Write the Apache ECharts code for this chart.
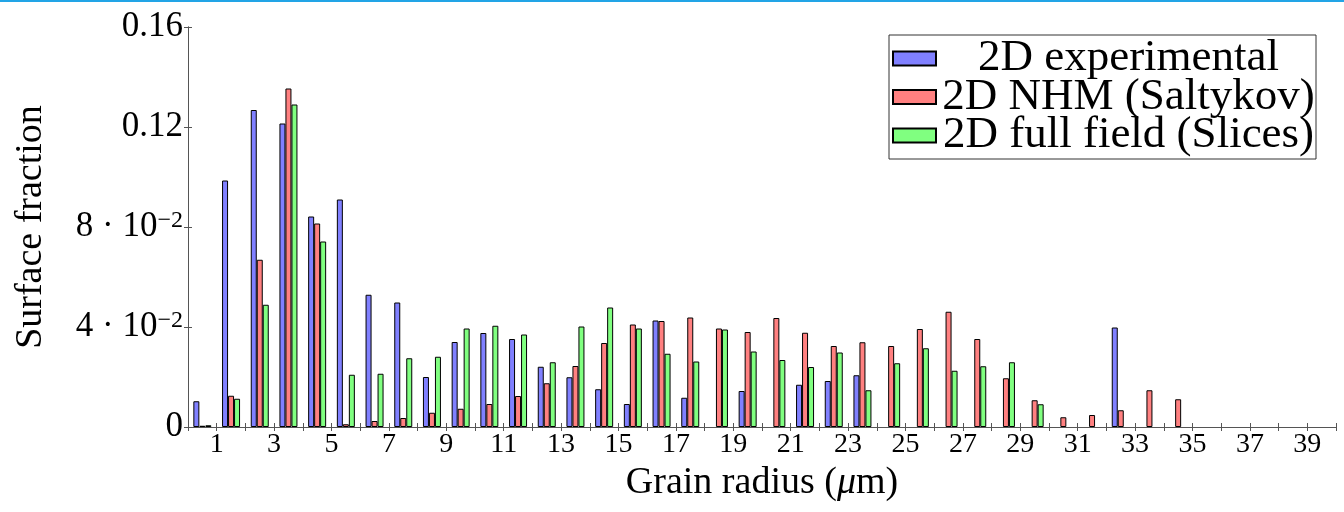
<!DOCTYPE html>
<html>
<head>
<meta charset="utf-8">
<script src="https://cdn.jsdelivr.net/npm/echarts@6/dist/echarts.min.js"></script>
<style>
  html, body { margin: 0; padding: 0; background: #fff; }
  #chart { width: 1344px; height: 512px; }
</style>
</head>
<body>
<div id="chart"></div>
<script>
// Bin centres (grain radius, µm): bins of width 1 from 0 to 40
const binCenters = [0.5, 1.5, 2.5, 3.5, 4.5, 5.5, 6.5, 7.5, 8.5, 9.5,
  10.5, 11.5, 12.5, 13.5, 14.5, 15.5, 16.5, 17.5, 18.5, 19.5,
  20.5, 21.5, 22.5, 23.5, 24.5, 25.5, 26.5, 27.5, 28.5, 29.5,
  30.5, 31.5, 32.5, 33.5, 34.5, 35.5, 36.5, 37.5, 38.5, 39.5];

// Surface fraction per bin
const experimental = [0.0103, 0.0986, 0.1268, 0.1214, 0.0842, 0.0910, 0.0529, 0.0498, 0.0200, 0.0340,
  0.0376, 0.0352, 0.0241, 0.0199, 0.0151, 0.0092, 0.0426, 0.0117, 0, 0.0144,
  0, 0.0169, 0.0184, 0.0207, 0, 0, 0, 0, 0, 0,
  0, 0, 0.0398, 0, 0, 0, 0, 0, 0, 0];

const nhmSaltykov = [0.0005, 0.0125, 0.0669, 0.1354, 0.0814, 0.0011, 0.0024, 0.0036, 0.0057, 0.0073,
  0.0092, 0.0124, 0.0175, 0.0244, 0.0336, 0.0410, 0.0424, 0.0438, 0.0394, 0.0380,
  0.0436, 0.0377, 0.0324, 0.0339, 0.0324, 0.0392, 0.0461, 0.0352, 0.0195, 0.0107,
  0.0039, 0.0048, 0.0067, 0.0147, 0.0111, 0, 0, 0, 0, 0];

const fullFieldSlices = [0.0007, 0.0113, 0.0489, 0.1290, 0.0742, 0.0209, 0.0213, 0.0275, 0.0281, 0.0394,
  0.0405, 0.0370, 0.0259, 0.0402, 0.0478, 0.0394, 0.0293, 0.0262, 0.0390, 0.0302,
  0.0268, 0.0240, 0.0298, 0.0147, 0.0255, 0.0315, 0.0225, 0.0243, 0.0259, 0.0091,
  0, 0, 0, 0, 0, 0, 0, 0, 0, 0];

const seriesNames = ['2D experimental', '2D NHM (Saltykov)', '2D full field (Slices)'];
const seriesColors = ['#8080ff', '#ff8080', '#80ff80'];

// y tick labels written as in the source typesetting
const yTickLabels = { '0': '0', '0.04': '4 · 10{s|−2}', '0.08': '8 · 10{s|−2}', '0.12': '0.12', '0.16': '0.16' };

const FONT = '"Liberation Serif", "DejaVu Serif", serif';
const AXIS_COLOR = '#555';

// empty bins get no bar at all (a zero-height bar would still stroke its outline)
function pairs(values) {
  return binCenters.map((x, i) => [x, values[i] === 0 ? '-' : values[i]]);
}

const chart = echarts.init(document.getElementById('chart'), null, { renderer: 'canvas' });

const barSeries = [experimental, nhmSaltykov, fullFieldSlices].map((vals, k) => ({
  name: seriesNames[k],
  type: 'bar',
  data: pairs(vals),
  barWidth: 6,
  barGap: '0%',
  itemStyle: { color: seriesColors[k], borderColor: '#000', borderWidth: 1 },
  emphasis: { disabled: true },
  animation: false
}));

chart.setOption({
  backgroundColor: '#fff',
  animation: false,
  textStyle: { fontFamily: FONT },
  graphic: [{
    type: 'rect',
    left: 0, top: 0,
    shape: { width: 1344, height: 2 },
    style: { fill: '#22a4e6' }
  }],
  grid: { left: 188, right: 8, top: 27, bottom: 85 },
  legend: {
    orient: 'vertical',
    left: 889, top: 35,
    padding: [1, 0, 1, 3],
    itemGap: -6.5,
    itemWidth: 43, itemHeight: 14,
    icon: 'rect',
    borderColor: '#333', borderWidth: 1,
    backgroundColor: '#fff',
    data: seriesNames,
    formatter: name => '{c|' + name + '}',
    textStyle: {
      fontFamily: FONT, fontSize: 45, lineHeight: 38, color: '#000',
      rich: { c: { fontFamily: FONT, fontSize: 45, lineHeight: 38, height: 38, width: 375, align: 'center', color: '#000' } }
    }
  },
  xAxis: [{
    type: 'value', position: 'bottom',
    min: 0, max: 40, interval: 1,
    name: 'Grain radius ({it|μ}m)', nameLocation: 'middle', nameGap: 30,
    nameTextStyle: {
      fontFamily: FONT, fontSize: 38, color: '#000',
      rich: { it: { fontFamily: FONT, fontSize: 38, fontStyle: 'italic', color: '#000' } }
    },
    axisLine: { lineStyle: { color: AXIS_COLOR, width: 1 } },
    axisTick: { inside: false, length: 4, lineStyle: { color: AXIS_COLOR } },
    axisLabel: {
      fontFamily: FONT, fontSize: 28, color: '#000', margin: 4,
      showMinLabel: true, showMaxLabel: true,
      formatter: v => (v % 2 === 1 ? String(v) : '')
    },
    splitLine: { show: false }
  }, {
    type: 'value', position: 'top',
    min: 0, max: 40, interval: 1,
    axisLine: { lineStyle: { color: AXIS_COLOR, width: 1 } },
    axisTick: { inside: false, length: 4, lineStyle: { color: AXIS_COLOR } },
    axisLabel: { show: false },
    splitLine: { show: false }
  }],
  yAxis: [{
    type: 'value', position: 'left',
    min: 0, max: 0.16, interval: 0.04,
    name: 'Surface fraction', nameLocation: 'middle', nameGap: 138,
    nameTextStyle: { fontFamily: FONT, fontSize: 38, color: '#000' },
    axisLine: { show: true, lineStyle: { color: AXIS_COLOR, width: 1 } },
    axisTick: { show: true, inside: true, length: 4, lineStyle: { color: AXIS_COLOR } },
    axisLabel: {
      fontFamily: FONT, fontSize: 35, color: '#000', margin: 5,
      formatter: v => yTickLabels[String(+v.toFixed(2))] || '',
      rich: { s: { fontFamily: FONT, fontSize: 24, color: '#000', verticalAlign: 'top', padding: [0, 0, 12, 0] } }
    },
    splitLine: { show: false }
  }, {
    type: 'value', position: 'right',
    min: 0, max: 0.16, interval: 0.04,
    axisLine: { show: true, lineStyle: { color: AXIS_COLOR, width: 1 } },
    axisTick: { show: true, inside: true, length: 4, lineStyle: { color: AXIS_COLOR } },
    axisLabel: { show: false },
    splitLine: { show: false }
  }],
  series: barSeries
});
</script>
</body>
</html>
